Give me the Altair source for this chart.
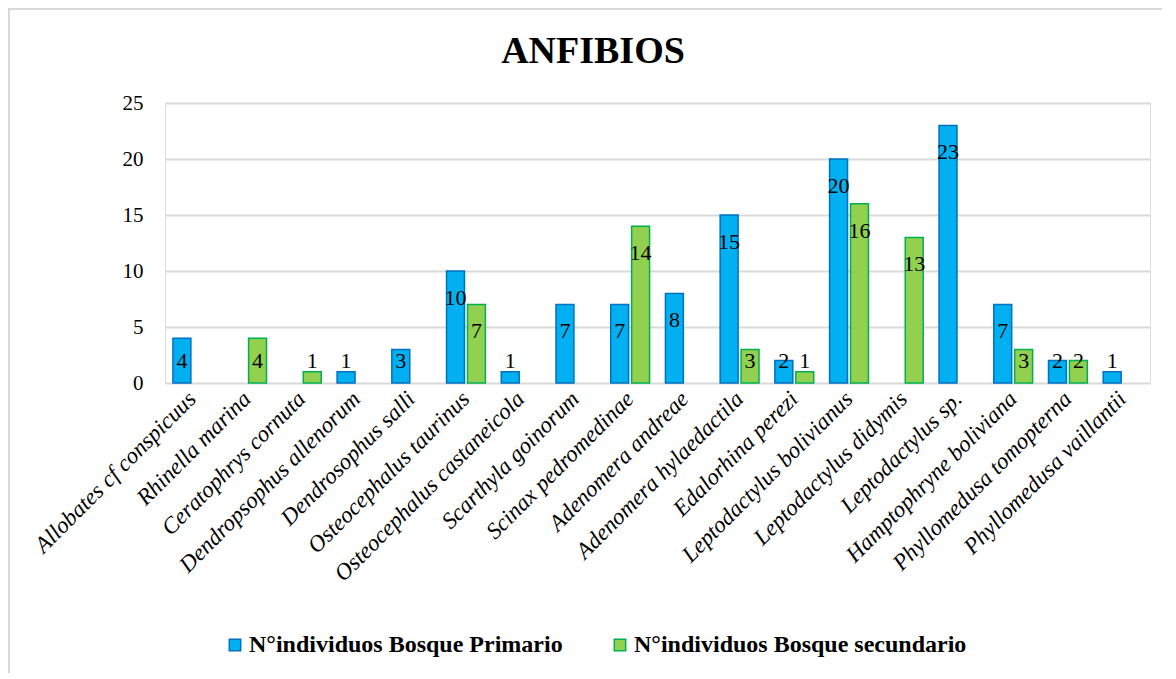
import altair as alt
import pandas as pd

chart_title = ["ANFIBIOS"]
species = [
    "Allobates cf conspicuus", "Rhinella marina", "Ceratophrys cornuta",
    "Dendropsophus allenorum", "Dendrosophus salli", "Osteocephalus taurinus",
    "Osteocephalus castaneicola", "Scarthyla goinorum", "Scinax pedromedinae",
    "Adenomera andreae", "Adenomera hylaedactila", "Edalorhina perezi",
    "Leptodactylus bolivianus", "Leptodactylus didymis", "Leptodactylus sp.",
    "Hamptophryne boliviana", "Phyllomedusa tomopterna", "Phyllomedusa vaillantii",
]
primario = [4, None, None, 1, 3, 10, 1, 7, 7, 8, 15, 2, 20, None, 23, 7, 2, 1]
secundario = [None, 4, 1, None, None, 7, None, None, 14, None, 3, 1, 16, 13, None, 3, 2, None]
series_names = ["N°individuos Bosque Primario", "N°individuos Bosque secundario"]
fill_colors = ["#00B0F0", "#92D050"]
stroke_colors = ["#0070C0", "#00B050"]

rows = []
for i, sp in enumerate(species):
    for name, vals in zip(series_names, [primario, secundario]):
        if vals[i] is not None:
            rows.append({"especie": sp, "serie": name, "valor": vals[i]})
df = pd.DataFrame(rows)

W, H = 985, 280
FONT = "Liberation Serif"

yscale = alt.Scale(domain=[0, 25], nice=False, zero=True)

x_enc = alt.X("especie:N", sort=species,
              scale=alt.Scale(paddingInner=0.29, paddingOuter=0.145),
              axis=alt.Axis(title=None, labelAngle=-45, labelFontStyle="italic",
                            labelFont=FONT, labelFontSize=23, labelColor="#000",
                            labelPadding=12, ticks=False, domain=False,
                            labelLimit=400,
                            labelAlign="right", labelBaseline="middle"))
xoff = alt.XOffset("serie:N", sort=series_names,
                   scale=alt.Scale(paddingInner=0.143, paddingOuter=0))

base = alt.Chart(df)

bars = base.mark_bar(strokeWidth=1.5).encode(
    x=x_enc,
    xOffset=xoff,
    y=alt.Y("valor:Q", scale=yscale,
            axis=alt.Axis(title=None, values=[0, 5, 10, 15, 20, 25],
                          labelFont=FONT, labelFontSize=21, labelColor="#000",
                          labelPadding=22, ticks=False, domain=False,
                          gridColor="#D9D9D9", gridWidth=2)),
    fill=alt.Fill("serie:N", sort=series_names,
                  scale=alt.Scale(domain=series_names, range=fill_colors),
                  legend=alt.Legend(title=None, orient="none", direction="horizontal",
                                    legendX=58, legendY=530,
                                    symbolType="square", symbolSize=130,
                                    symbolStrokeWidth=1.5,
                                    labelFont=FONT, labelFontSize=24,
                                    labelFontWeight="bold", labelColor="#000",
                                    labelLimit=500, columnPadding=45,
                                    labelOffset=2)),
    stroke=alt.Stroke("serie:N", sort=series_names,
                      scale=alt.Scale(domain=series_names, range=stroke_colors),
                      legend=alt.Legend(title=None, orient="none", direction="horizontal",
                                        legendX=58, legendY=530)),
)

labels = base.transform_calculate(
    ly="max(datum.valor - 2.4, 2.0)"
).mark_text(font=FONT, fontSize=22, color="#000", baseline="middle").encode(
    x=alt.X("especie:N", sort=species),
    xOffset=xoff,
    y=alt.Y("ly:Q", scale=yscale),
    text=alt.Text("valor:Q"),
)

title_df = pd.DataFrame({"t": chart_title})
title_mark = alt.Chart(title_df).mark_text(
    font=FONT, fontSize=38, fontWeight="bold", color="#000",
    align="center", baseline="alphabetic"
).encode(x=alt.value(428), y=alt.value(-40), text="t:N")

border = alt.Chart(pd.DataFrame({"d": [0]})).mark_rect(
    filled=False, stroke="#D9D9D9", strokeWidth=2
).encode(x=alt.value(-156), x2=alt.value(1100), y=alt.value(-94), y2=alt.value(700))

chart = alt.layer(border, bars, labels, title_mark).properties(
    width=W, height=H,
    autosize=alt.AutoSizeParams(type="none"),
    padding={"left": 157, "top": 95, "right": 12, "bottom": 290},
).configure_view(stroke=None).configure(background="white")

chart.save("out.html", embed_options={"renderer": "svg", "actions": False})
